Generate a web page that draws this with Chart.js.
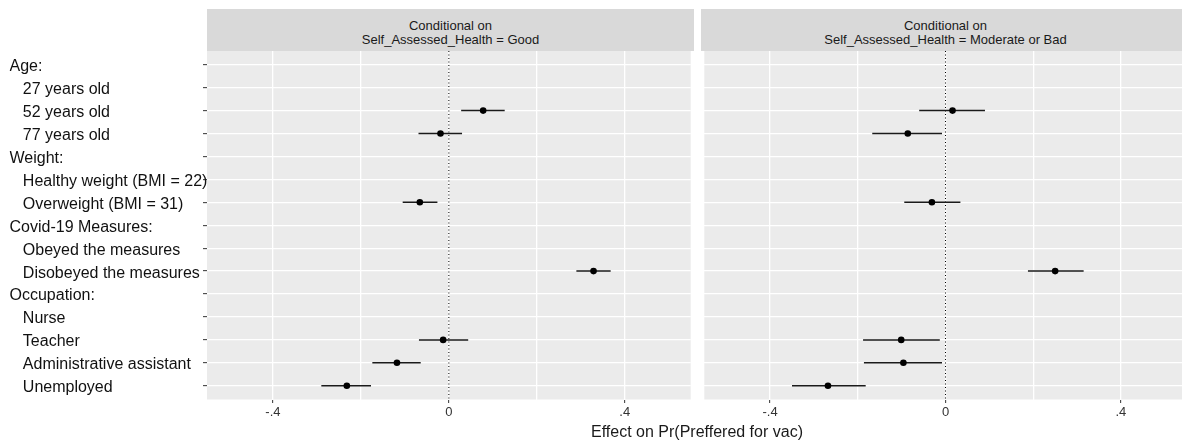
<!DOCTYPE html>
<html>
<head>
<meta charset="utf-8">
<script src="https://cdn.jsdelivr.net/npm/chart.js@4.4.1/dist/chart.umd.min.js"></script>
<style>
html,body{margin:0;padding:0;background:#fff;overflow:hidden;width:1182px;height:443px;}
#wrap{position:relative;width:1182px;height:443px;overflow:hidden;font-family:"Liberation Sans",Arial,sans-serif;}
.strip{position:absolute;top:9px;height:42px;box-sizing:border-box;padding-top:9.5px;background:#d9d9d9;color:#1a1a1a;font-size:13px;line-height:14px;text-align:center;white-space:nowrap;}
canvas{position:absolute;top:0;}
#xtitle{position:absolute;left:497px;width:400px;top:423.5px;font-size:16px;line-height:16px;text-align:center;color:#1a1a1a;white-space:nowrap;}
</style>
</head>
<body>
<div id="wrap">
  <div class="strip" style="left:207px;width:487px;">Conditional on<br>Self_Assessed_Health = Good</div>
  <div class="strip" style="left:701px;width:489px;">Conditional on<br>Self_Assessed_Health = Moderate or Bad</div>
  <canvas id="c1" width="694" height="443" style="left:0;"></canvas>
  <canvas id="c2" width="489" height="443" style="left:701px;"></canvas>
  <div id="xtitle">Effect on Pr(Preffered for vac)</div>
</div>
<script>
// ---- data ----
const rowLabels = ["Age:", "27 years old", "52 years old", "77 years old",
  "Weight:", "Healthy weight (BMI = 22)", "Overweight (BMI = 31)",
  "Covid-19 Measures:", "Obeyed the measures", "Disobeyed the measures",
  "Occupation:", "Nurse", "Teacher", "Administrative assistant", "Unemployed"];
const rowIsHeader = [true,false,false,false,true,false,false,true,false,false,true,false,false,false,false];

const goodEst = [null,null, 0.078,-0.019, null,null,-0.066, null,null, 0.329, null,null,-0.013,-0.118,-0.232];
const goodLo  = [null,null, 0.028,-0.069, null,null,-0.105, null,null, 0.290, null,null,-0.068,-0.174,-0.290];
const goodHi  = [null,null, 0.127, 0.030, null,null,-0.026, null,null, 0.368, null,null, 0.044,-0.064,-0.177];

const badEst  = [null,null, 0.016,-0.086, null,null,-0.031, null,null, 0.250, null,null,-0.101,-0.096,-0.268];
const badLo   = [null,null,-0.060,-0.167, null,null,-0.094, null,null, 0.188, null,null,-0.188,-0.186,-0.350];
const badHi   = [null,null, 0.090,-0.008, null,null, 0.034, null,null, 0.315, null,null,-0.013,-0.008,-0.182];

const xBreaks = [-0.4, -0.2, 0, 0.2, 0.4];
const xMajor  = [-0.4, 0, 0.4];
const xTickLabels = ["-.4", "0", ".4"];
const xMin = -0.55, xMax = 0.55;

// ---- helpers ----
const FONT = '"Liberation Sans", Arial, sans-serif';
const panelBg = {
  id: 'panelBg',
  beforeDraw(chart) {
    const {ctx, chartArea: a} = chart;
    ctx.save();
    ctx.fillStyle = '#ebebeb';
    ctx.fillRect(a.left, a.top, a.right - a.left, a.bottom - a.top);
    ctx.restore();
  }
};

function isMajor(v) { return xMajor.some(m => Math.abs(m - v) < 1e-9); }

function makeChart(id, est, lo, hi, showY) {
  const ciData = [];
  const ptData = [];
  est.forEach((e, i) => {
    if (e === null) return;
    ciData.push({x: lo[i], y: i + 1}, {x: hi[i], y: i + 1}, {x: null, y: null});
    ptData.push({x: e, y: i + 1});
  });
  const nRows = rowLabels.length;
  return new Chart(document.getElementById(id), {
    type: 'scatter',
    data: {
      datasets: [
        {data: ptData, pointRadius: 3.3, pointHoverRadius: 3.3, pointStyle: 'circle',
         backgroundColor: '#000', borderWidth: 0, order: 1},
        {data: ciData, showLine: true, borderColor: '#1a1a1a', borderWidth: 1.5,
         pointRadius: 0, spanGaps: false, order: 2},
        {data: [{x: 0, y: 0.4}, {x: 0, y: nRows + 0.6}], showLine: true, borderColor: '#000',
         borderWidth: 1, borderDash: [1, 2.5], pointRadius: 0, order: 3}
      ]
    },
    options: {
      responsive: false,
      animation: false,
      events: [],
      layout: {padding: {left: showY ? 9.5 : 0, top: 51, right: 0, bottom: 0}},
      plugins: {legend: {display: false}, tooltip: {enabled: false}},
      scales: {
        x: {
          type: 'linear', min: xMin, max: xMax,
          afterBuildTicks: ax => { ax.ticks = xBreaks.map(v => ({value: v})); },
          afterFit: ax => { ax.height = 43.5; },
          border: {display: false},
          grid: {color: '#ffffff', lineWidth: 1.3, tickLength: 3.5,
                 tickColor: c => (c.tick && isMajor(c.tick.value)) ? '#333333' : 'rgba(0,0,0,0)', tickWidth: 1},
          ticks: {
            autoSkip: false, maxRotation: 0, padding: 2, color: '#333333',
            font: {family: FONT, size: 13},
            callback: v => { const k = xMajor.findIndex(m => Math.abs(m - v) < 1e-9); return k >= 0 ? xTickLabels[k] : ''; }
          }
        },
        y: {
          type: 'linear', reverse: true, min: 0.4, max: nRows + 0.6,
          afterBuildTicks: ax => { ax.ticks = rowLabels.map((_, i) => ({value: i + 1})); },
          afterFit: ax => { ax.width = showY ? 197.5 : 0; },
          border: {display: false},
          grid: {color: '#ffffff', lineWidth: 1.3, drawTicks: showY, tickLength: 4,
                 tickColor: '#333333', tickWidth: 1},
          ticks: {
            display: showY, autoSkip: false, crossAlign: 'far', padding: 2, color: '#111111',
            font: {family: FONT, size: 16, lineHeight: '4px'},
            // empty first line shifts the visible label ~2px down, as in the reference
            callback: v => { const i = Math.round(v) - 1; const t = rowLabels[i]; return ['', rowIsHeader[i] ? t : '   ' + t]; }
          }
        }
      }
    },
    plugins: [panelBg]
  });
}

makeChart('c1', goodEst, goodLo, goodHi, true);
makeChart('c2', badEst, badLo, badHi, false);
</script>
</body>
</html>
